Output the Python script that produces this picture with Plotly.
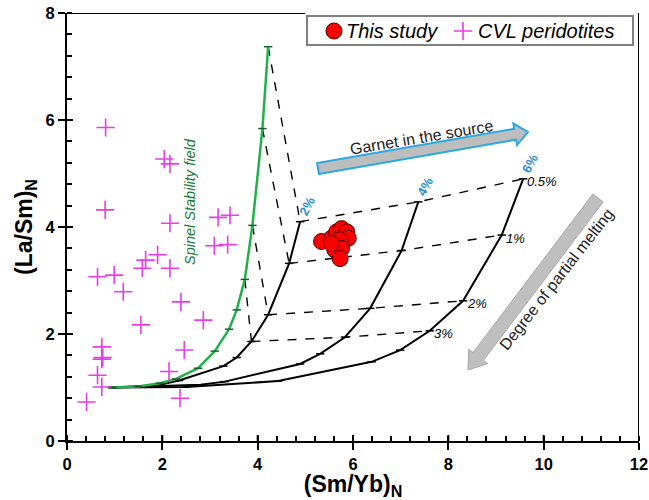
import math
import plotly.graph_objects as go

# ---------------- data ----------------
cvl_x = [0.41, 0.73, 0.64, 0.73, 0.75, 0.73, 1.18, 1.55, 2.39, 2.86, 2.46, 2.14, 2.37,
         0.81, 2.04, 2.16, 0.80, 2.16, 3.17, 3.42, 3.09, 3.37, 1.90, 1.65, 1.58, 2.16, 0.64, 0.99]
cvl_y = [0.73, 1.01, 1.23, 1.53, 1.56, 1.76, 2.79, 2.17, 2.60, 2.26, 1.70, 1.30, 0.80,
         5.86, 5.27, 5.18, 4.32, 4.07, 4.18, 4.22, 3.65, 3.67, 3.48, 3.38, 3.23, 3.23, 3.07, 3.10]

study_x = [5.34, 5.55, 5.66, 5.76, 5.87, 5.90, 5.73, 5.62, 5.76, 5.73, 5.55]
study_y = [3.73, 3.79, 3.91, 3.97, 3.91, 3.79, 3.76, 3.57, 3.60, 3.41, 3.69]

spinel_x = [0.95, 1.50, 1.95, 2.29, 2.75, 3.10, 3.40, 3.56, 3.73, 3.89, 4.10, 4.22]
spinel_y = [1.00, 1.02, 1.08, 1.16, 1.36, 1.68, 2.09, 2.45, 3.02, 4.03, 5.84, 7.37]

grt2_x = [0.95, 1.90, 2.35, 3.28, 3.56, 3.87, 4.22, 4.66, 4.89]
grt2_y = [1.00, 1.04, 1.13, 1.40, 1.56, 1.86, 2.36, 3.32, 4.10]
grt4_x = [0.95, 2.80, 3.31, 4.89, 5.31, 5.83, 6.36, 7.02, 7.37]
grt4_y = [1.00, 1.05, 1.11, 1.44, 1.63, 1.94, 2.48, 3.56, 4.47]
grt6_x = [0.95, 2.50, 4.43, 6.39, 6.99, 7.61, 8.31, 9.12, 9.57]
grt6_y = [1.00, 1.01, 1.12, 1.48, 1.70, 2.06, 2.62, 3.85, 4.90]

melt_labels = ["0.5%", "1%", "2%", "3%"]
spinel_melt_x = [4.22, 4.10, 3.89, 3.73]
spinel_melt_y = [7.37, 5.84, 4.03, 3.02]
grt2_melt_x = [4.89, 4.66, 4.22, 3.87]
grt2_melt_y = [4.10, 3.32, 2.36, 1.86]
grt4_melt_x = [7.37, 7.02, 6.36, 5.83]
grt4_melt_y = [4.47, 3.56, 2.48, 1.94]
grt6_melt_x = [9.57, 9.12, 8.31, 7.61]
grt6_melt_y = [4.90, 3.85, 2.62, 2.06]

garnet_labels = ["2%", "4%", "6%"]
legend_names = ["This study", "CVL peridotites"]

x_ticks = [0, 2, 4, 6, 8, 10, 12]
y_ticks = [0, 2, 4, 6, 8]

# ---------------- layout constants ----------------
W, H = 649, 500
ML, MR, MT, MB = 67, 10, 13, 59
XR, YR = (0, 12), (0, 8)
PW, PH = W - ML - MR, H - MT - MB


def px2d(px, py):
    return (XR[0] + (px - ML) / PW * (XR[1] - XR[0]),
            YR[0] + (H - MB - py) / PH * (YR[1] - YR[0]))


def arrow_path(p0, tip, hw, hhw, hl):
    dx, dy = tip[0] - p0[0], tip[1] - p0[1]
    L = math.hypot(dx, dy)
    ux, uy = dx / L, dy / L
    nx, ny = -uy, ux
    hb = (tip[0] - hl * ux, tip[1] - hl * uy)
    pts = [
        (p0[0] + hw * nx, p0[1] + hw * ny),
        (hb[0] + hw * nx, hb[1] + hw * ny),
        (hb[0] + hhw * nx, hb[1] + hhw * ny),
        tip,
        (hb[0] - hhw * nx, hb[1] - hhw * ny),
        (hb[0] - hw * nx, hb[1] - hw * ny),
        (p0[0] - hw * nx, p0[1] - hw * ny),
    ]
    d = [px2d(*p) for p in pts]
    return "M " + " L ".join(f"{x:.4f},{y:.4f}" for x, y in d) + " Z"


FONT = "Liberation Sans, Arial, sans-serif"
GREEN = "#22b04b"
MAGENTA = "#e83ce8"
STUDY_MARKER = dict(symbol="circle", size=16, color="#ff0000", line=dict(color="#4a0000", width=1))
CVL_MARKER = dict(symbol="cross-thin", size=13, line=dict(color=MAGENTA, width=1.6))

fig = go.Figure()

# connectors (dashed)
dash_line = dict(color="black", width=1.4, dash="dash")
for i in range(len(melt_labels)):
    fig.add_trace(go.Scatter(x=[spinel_melt_x[i], grt2_melt_x[i]], y=[spinel_melt_y[i], grt2_melt_y[i]],
                             mode="lines", line=dash_line, showlegend=False, hoverinfo="skip"))
    fig.add_trace(go.Scatter(x=[grt2_melt_x[i], grt4_melt_x[i], grt6_melt_x[i]],
                             y=[grt2_melt_y[i], grt4_melt_y[i], grt6_melt_y[i]],
                             mode="lines", line=dash_line, showlegend=False, hoverinfo="skip"))

# garnet curves
for gx, gy in [(grt2_x, grt2_y), (grt4_x, grt4_y), (grt6_x, grt6_y)]:
    fig.add_trace(go.Scatter(x=gx, y=gy, mode="lines+markers",
                             line=dict(color="black", width=2),
                             marker=dict(symbol="line-ew", size=6, line=dict(color="black", width=1.5)),
                             showlegend=False, hoverinfo="skip"))

# spinel curve
fig.add_trace(go.Scatter(x=spinel_x, y=spinel_y, mode="lines+markers",
                         line=dict(color=GREEN, width=2.5),
                         marker=dict(symbol="line-ew", size=6, line=dict(color="#17602c", width=1.5)),
                         showlegend=False, hoverinfo="skip"))

# data points
fig.add_trace(go.Scatter(x=study_x, y=study_y, mode="markers", name=legend_names[0],
                         marker=STUDY_MARKER, showlegend=False))
fig.add_trace(go.Scatter(x=cvl_x, y=cvl_y, mode="markers", name=legend_names[1],
                         marker=CVL_MARKER, showlegend=False))

# legend glyphs (drawn in a hand-made legend box)
g1 = px2d(334, 31)
g2 = px2d(463, 31)
fig.add_trace(go.Scatter(x=[g1[0]], y=[g1[1]], mode="markers", marker=STUDY_MARKER,
                         showlegend=False, hoverinfo="skip", cliponaxis=False))
fig.add_trace(go.Scatter(x=[g2[0]], y=[g2[1]], mode="markers", marker=CVL_MARKER,
                         showlegend=False, hoverinfo="skip", cliponaxis=False))

shapes = []
# partial top frame and right frame
x_end = px2d(305, 0)[0]
shapes.append(dict(type="line", xref="x", yref="y", x0=0, x1=x_end, y0=8, y1=8,
                   line=dict(color="black", width=2)))
shapes.append(dict(type="line", xref="x", yref="y", x0=12, x1=12, y0=0, y1=8,
                   line=dict(color="black", width=2)))
# inside part of the major ticks (ticks cross the axis lines)
for v in x_ticks:
    shapes.append(dict(type="line", xref="x", yref="paper", x0=v, x1=v, y0=0, y1=6 / PH,
                       line=dict(color="black", width=2)))
for v in y_ticks:
    shapes.append(dict(type="line", xref="paper", yref="y", x0=0, x1=6 / PW, y0=v, y1=v,
                       line=dict(color="black", width=2)))
# legend box
lb0 = px2d(307, 45)
lb1 = px2d(633, 16)
shapes.append(dict(type="rect", xref="x", yref="y", x0=lb0[0], y0=lb0[1], x1=lb1[0], y1=lb1[1],
                   fillcolor="white", line=dict(color="#808080", width=2), layer="below"))
# arrows
shapes.append(dict(type="path", xref="x", yref="y",
                   path=arrow_path((318, 168.5), (528, 132), 5.5, 11, 13),
                   fillcolor="#bdbdbd", line=dict(color="#29a9e0", width=2)))
shapes.append(dict(type="path", xref="x", yref="y",
                   path=arrow_path((598, 198), (468, 370), 6.5, 12, 17),
                   fillcolor="#bfbfbf", line=dict(color="#a8a8a8", width=1)))

annotations = []
# legend texts
t1 = px2d(344, 31)
t2 = px2d(476, 31)
for (tx, ty), name in zip([t1, t2], legend_names):
    annotations.append(dict(x=tx, y=ty, xref="x", yref="y", text=f"<i>{name}</i>",
                            showarrow=False, xanchor="left", yanchor="middle",
                            font=dict(family=FONT, size=20, color="black")))
# y axis title
annotations.append(dict(x=(25 - ML) / PW, y=(H - MB - 227) / PH, xref="paper", yref="paper",
                        text="<b>(La/Sm)<sub>N</sub></b>", showarrow=False, textangle=-90,
                        xanchor="center", yanchor="middle",
                        font=dict(family=FONT, size=23, color="black")))
# garnet-in-source text
gx_, gy_ = px2d(421, 137)
annotations.append(dict(x=gx_, y=gy_, xref="x", yref="y", text="Garnet in the source",
                        showarrow=False, textangle=-9.5,
                        font=dict(family=FONT, size=16, color="#222")))
# degree of partial melting text
dx_, dy_ = px2d(556, 279)
annotations.append(dict(x=dx_, y=dy_, xref="x", yref="y", text="Degree of partial melting",
                        showarrow=False, textangle=-52,
                        font=dict(family=FONT, size=16, color="#222")))
# spinel stability field
sx_, sy_ = px2d(190, 202)
annotations.append(dict(x=sx_, y=sy_, xref="x", yref="y", text="<i>Spinel Stability field</i>",
                        showarrow=False, textangle=-90,
                        font=dict(family=FONT, size=14.5, color="#157a35")))
# garnet percentage labels (blue) above the tops of the garnet curves
for lab, tx, ty in zip(garnet_labels, [grt2_melt_x[0], grt4_melt_x[0], grt6_melt_x[0]],
                       [grt2_melt_y[0], grt4_melt_y[0], grt6_melt_y[0]]):
    annotations.append(dict(x=tx, y=ty, xref="x", yref="y", text=f"<b>{lab}</b>", showarrow=False,
                            textangle=-62, xshift=7, yshift=15,
                            font=dict(family=FONT, size=13, color="#2b8fcf")))
# melting degree labels next to 6% curve
for lab, tx, ty in zip(melt_labels, grt6_melt_x, grt6_melt_y):
    annotations.append(dict(x=tx, y=ty, xref="x", yref="y", text=f"<i>{lab}</i>", showarrow=False,
                            xanchor="left", xshift=2, yshift=-3,
                            font=dict(family=FONT, size=13, color="black")))

tickfont = dict(family=FONT, size=16.5, color="black")
axis_common = dict(showgrid=False, zeroline=False, automargin=False,
                   showline=True, linecolor="black", linewidth=2,
                   ticks="outside", ticklen=7, tickwidth=2, tickcolor="black",
                   minor=dict(dtick=0.4, tick0=0, ticks="inside", ticklen=5, tickwidth=1.5,
                              tickcolor="black"),
                   tickfont=tickfont)
fig.update_layout(
    width=W, height=H,
    margin=dict(l=ML, r=MR, t=MT, b=MB, pad=0),
    paper_bgcolor="white", plot_bgcolor="white",
    showlegend=False,
    xaxis=dict(range=list(XR), **axis_common,
               tickmode="array", tickvals=x_ticks, ticktext=[f"<b>{v}</b>" for v in x_ticks],
               title=dict(text="<b>(Sm/Yb)<sub>N</sub></b>", standoff=2,
                          font=dict(family=FONT, size=23, color="black"))),
    yaxis=dict(range=list(YR), **axis_common,
               tickmode="array", tickvals=y_ticks, ticktext=[f"<b>{v}</b>" for v in y_ticks]),
    shapes=shapes, annotations=annotations,
)

fig.write_html("out.html")
